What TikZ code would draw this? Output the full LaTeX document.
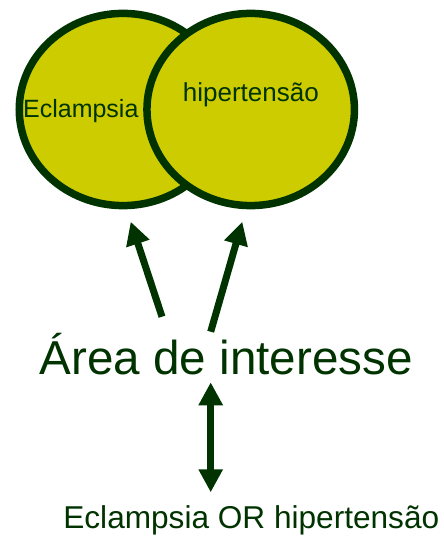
\documentclass[tikz,border=0pt]{standalone}
\usepackage{fontspec}
\setmainfont{Liberation Sans}
\usetikzlibrary{shapes.geometric,arrows.meta}
\definecolor{dkgreen}{HTML}{003300}
\definecolor{olive}{HTML}{CCCC00}
\begin{document}
\begin{tikzpicture}[x=1bp,y=-1bp,
  blob/.style={ellipse,draw=dkgreen,fill=olive,line width=7.5bp,inner sep=0pt,outer sep=0pt,minimum width=207.5bp,minimum height=192.2bp},
  lbl/.style={text=dkgreen,inner sep=0pt,anchor=base},
  bigarrow/.style={draw=dkgreen,line width=7bp,-{Triangle[width=23bp,length=23bp]}},
  dblarrow/.style={draw=dkgreen,line width=7bp,{Triangle[width=23bp,length=23bp]}-{Triangle[width=23bp,length=23bp]}}]
\useasboundingbox (0,0) rectangle (444,537);
\node[blob] (eclE) at (123,109.5) {};
\node[blob] (hipE) at (250.7,109.5) {};
\node[lbl,font=\fontsize{25bp}{30bp}\selectfont] (eclT) at (80.8,118) {Eclampsia};
\node[lbl,font=\fontsize{26bp}{30bp}\selectfont] (hipT) at (250.8,101.7) {hipertensão};
\node[lbl,font=\fontsize{47.6bp}{54bp}\selectfont] (area) at (226.3,374) {Área de interesse};
\node[lbl,font=\fontsize{31.6bp}{36bp}\selectfont] (query) at (251.3,528) {Eclampsia OR hipertensão};
\coordinate (a1s) at (162,316.7);
\coordinate (a1e) at (130.7,221.7);
\coordinate (a2s) at (210.7,331.7);
\coordinate (a2e) at (242.3,221.7);
\coordinate (dtop) at (210.7,382.3);
\coordinate (dbot) at (210.7,492.3);
\draw[bigarrow] (a1s) -- (a1e);
\draw[bigarrow] (a2s) -- (a2e);
\draw[dblarrow] (dbot) -- (dtop);
\end{tikzpicture}
\end{document}
